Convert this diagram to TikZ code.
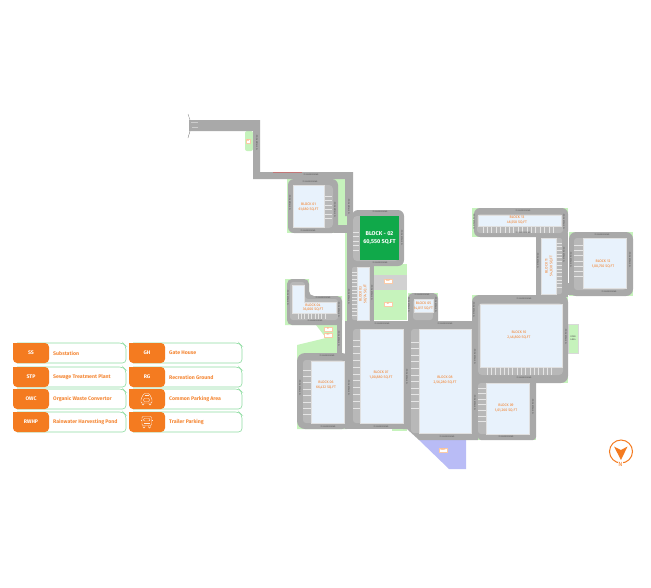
\documentclass[tikz,border=0pt]{standalone}
\usepackage{fontspec}
\setmainfont{Fira Sans}
\usepackage{tikz}
\usetikzlibrary{arrows.meta,positioning,calc}
\definecolor{RoadColor}{HTML}{A9A9A9}
\definecolor{ParkColor}{HTML}{B8B8B8}
\definecolor{LawnColor}{HTML}{C6F3BC}
\definecolor{BlockColor}{HTML}{E8F2FC}
\definecolor{MainBlock}{HTML}{10A94A}
\definecolor{TagColor}{HTML}{F47B20}
\definecolor{PondColor}{HTML}{B9BCF6}
\definecolor{EdgeColor}{HTML}{8FDCA2}
\tikzset{
  road/.style={fill=RoadColor},
  park/.style={fill=ParkColor},
  lawn/.style={fill=LawnColor},
  block/.style={fill=BlockColor,draw=black!12,line width=0.2pt},
  stripe/.style={white!90!black,line width=0.7pt},
  blocktxt/.style={text=TagColor,align=center,font=\fontsize{3.6}{4.6}\selectfont,inner sep=0pt},
  roadtxt/.style={text=black!70,font=\fontsize{2}{2.4}\selectfont,inner sep=0pt},
  smalltag/.style={fill=white,draw=TagColor!40,line width=0.2pt,text=TagColor,font=\fontsize{1.8}{2}\selectfont,minimum width=8pt,minimum height=3.4pt,inner sep=0pt},
  legtag/.style={text=white,font=\fontsize{5.2}{6}\selectfont\bfseries,inner sep=0pt},
  legtxt/.style={text=TagColor!90,anchor=west,font=\fontsize{5.2}{6.4}\selectfont\bfseries,inner sep=0pt},
  icon/.style={draw=white!85!TagColor,line width=0.45pt,rounded corners=1pt},
}
\begin{document}
\begin{tikzpicture}[x=1pt,y=-1pt]
  \useasboundingbox (0,0) rectangle (651,587);
  % lawns
  \fill[lawn,rounded corners=2pt] (245,131) -- (253,131) -- (253,151) -- (245,151) -- cycle;
  \fill[lawn] (287,179) rectangle (347,233);
  \fill[lawn] (345,233) rectangle (348,322);
  \fill[lawn] (374,264) rectangle (407,320);
  \fill[lawn] (285,279) -- (309,279) -- (309,296) -- (342,296) -- (342,325) -- (285,325) -- cycle;
  \fill[lawn] (316,325) -- (342,325) -- (342,356) -- (347,356) -- (347,429) -- (297,429) -- (297,345) -- (326,338) -- cycle;
  \fill[lawn] (392,425) rectangle (407,431);
  \fill[lawn] (408,293) rectangle (438,322);
  \fill[lawn] (472,295) rectangle (568,383);
  \fill[lawn] (478,382) rectangle (536,440);
  \fill[lawn] (472,208) rectangle (568,237);
  \fill[lawn] (569,232) rectangle (633,296);
  \fill[lawn,draw=black!15,line width=0.2pt] (568,324) rectangle (578,353);
  \fill[black!18] (374,275) rectangle (407,290);
  % pond
  \fill[PondColor] (419,440) -- (466,440) -- (466,469) -- (449,469) -- cycle;
  % access road
  \fill[road] (189,120) -- (260,120) -- (260,172) -- (353,172) -- (353,216) -- (345,216) -- (345,179) -- (253,179) -- (253,131) -- (189,131) -- cycle;
  \draw[red!30!RoadColor,line width=0.3pt] (273,172.2) -- (302,172.2);
  \draw[black!60,line width=0.3pt] (190,120) -- (188,114);
  \draw[black!60,line width=0.3pt] (190,131) -- (188,138);
  \draw[white!80!black,line width=0.4pt] (191,122.5) -- (198,122.5);
  \draw[white!80!black,line width=0.4pt] (192,127) -- (198,127);
  % road rings
  \fill[road,rounded corners=6pt] (288,179) rectangle (338,233);
  \fill[road] (334,225) rectangle (348,233);
  \fill[road] (347,215) rectangle (353,327);
  \fill[road,rounded corners=6pt] (352,210) rectangle (404,266);
  \fill[road] (347,262) rectangle (374,327);
  \fill[road,rounded corners=5pt] (287,279) -- (309,279) -- (309,296) -- (342,296) -- (342,325) -- (287,325) -- cycle;
  \fill[road] (337,318) rectangle (342,360);
  \fill[road,rounded corners=8pt] (297,353) -- (350,353) -- (350,429) -- (297,429) -- cycle;
  \fill[road] (345,321) rectangle (411,429);
  \fill[road] (403,321) -- (478,321) -- (478,440) -- (419,440) -- (407,429) -- (403,429) -- cycle;
  \fill[road,rounded corners=5pt] (408,293) rectangle (438,327);
  \fill[road,rounded corners=7pt] (472,295) rectangle (568,383);
  \fill[road,rounded corners=3pt] (478,380) rectangle (536,440);
  \fill[road] (536,233) rectangle (568,297);
  \fill[road,rounded corners=6pt] (474,208) rectangle (568,237);
  \fill[road,rounded corners=7pt] (569,232) rectangle (633,296);
  \fill[road] (566,283) rectangle (576,295);
  % parking
  \fill[park,rounded corners=4pt] (293,185) rectangle (333,228);
  \fill[park,rounded corners=4pt] (353,216) rectangle (399,261);
  \fill[park,rounded corners=2pt] (352,267) rectangle (369,320);
  \fill[park,rounded corners=3pt] (290,282) -- (305,282) -- (305,299) -- (338,299) -- (338,320) -- (290,320) -- cycle;
  \fill[park,rounded corners=3pt] (303,360) rectangle (344,423);
  \fill[park,rounded corners=3pt] (353,329) rectangle (403,423);
  \fill[park,rounded corners=3pt] (411,329) rectangle (471,433);
  \fill[park,rounded corners=3pt] (413,299) rectangle (433,320);
  \fill[park,rounded corners=4pt] (478,303) rectangle (563,375);
  \fill[park,rounded corners=3pt] (478,383) rectangle (529,434);
  \fill[park,rounded corners=2pt] (541,238) rectangle (562,294);
  \fill[park,rounded corners=3pt] (477,214) rectangle (563,233);
  \fill[park,rounded corners=3pt] (574,238) rectangle (626,290);
  % blocks
  \fill[block] (293,185) rectangle (324,227);
  \fill[MainBlock] (360,216) rectangle (399,260);
  \fill[block] (357,267) rectangle (369,320);
  \fill[block] (292,285) -- (304,285) -- (304,302) -- (336,302) -- (336,313) -- (292,313) -- cycle;
  \fill[block] (414,299) rectangle (433,312);
  \fill[block] (311,361) rectangle (344,423);
  \fill[block] (360,329) rectangle (403,423);
  \fill[block] (419,329) rectangle (471,433);
  \fill[block] (486,383) rectangle (529,434);
  \fill[block] (480,304) rectangle (562,367);
  \fill[block] (541,238) rectangle (556,294);
  \fill[block] (583,238) rectangle (626,288);
  \fill[block] (478,215) rectangle (561,226);
  % parking bays
  \foreach \py in {196,200.5,205,209.5,214,218} \draw[stripe] (325,\py) -- (332,\py);
  \foreach \py in {232,236.5,241,245.5,250} \draw[stripe] (353,\py) -- (359,\py);
  \foreach \py in {272,275.6,...,316} \draw[stripe] (352,\py) -- (357,\py);
  \foreach \px in {298,301.4,...,328} \draw[stripe] (\px,313) -- (\px,319);
  \foreach \py in {370,376.4,...,416} \draw[stripe] (303,\py) -- (311,\py);
  \foreach \py in {340,346.8,...,409} \draw[stripe] (353,\py) -- (360,\py);
  \foreach \py in {342,348.6,...,409} \draw[stripe] (411,\py) -- (419,\py);
  \foreach \py in {388,393.6,...,426} \draw[stripe] (478,\py) -- (486,\py);
  \foreach \px in {487,491.3,...,553} \draw[stripe] (\px,367) -- (\px,375);
  \foreach \py in {243,246.7,...,288} \draw[stripe] (556,\py) -- (562,\py);
  \foreach \py in {245,250.3,...,278} \draw[stripe] (574,\py) -- (583,\py);
  \foreach \px in {483,487.4,...,554} \draw[stripe] (\px,227) -- (\px,233);
  % block names
  \node[blocktxt] (bk01) at (308.5,207) {BLOCK 01\\61,680 SQ.FT};
  \node[text=white,align=center,inner sep=0pt,font=\fontsize{5.6}{7.6}\selectfont\bfseries] (bk02) at (379.5,238) {BLOCK - 02\\60,550 SQ.FT};
  \node[blocktxt,rotate=90] (bk03) at (363,294) {BLOCK 03\\50,774 SQ.FT};
  \node[blocktxt] (bk04) at (313,307.5) {BLOCK 04\\36,000 SQ.FT};
  \node[blocktxt] (bk05) at (423.5,306) {BLOCK 05\\14,017 SQ.FT};
  \node[blocktxt] (bk06) at (326,385) {BLOCK 06\\66,432 SQ.FT};
  \node[blocktxt] (bk07) at (381,375) {BLOCK 07\\1,00,880 SQ.FT};
  \node[blocktxt] (bk08) at (445,380) {BLOCK 08\\2,56,280 SQ.FT};
  \node[blocktxt] (bk09) at (506,408) {BLOCK 09\\1,01,260 SQ.FT};
  \node[blocktxt] (bk10) at (519,335) {BLOCK 10\\2,46,800 SQ.FT};
  \node[blocktxt,rotate=90] (bk11) at (549,266) {BLOCK 11\\54,830 SQ.FT};
  \node[blocktxt] (bk12) at (603,264) {BLOCK 12\\1,00,750 SQ.FT};
  \node[blocktxt] (bk13) at (517,220) {BLOCK 13\\46,550 SQ.FT};
  \node[text=black!70,align=center,inner sep=0pt,font=\fontsize{2.2}{3}\selectfont] (opn) at (573,338.5) {OPEN\\AREA};
  % utility tags
  \node[smalltag,minimum width=4pt] (tgh) at (248,141) {GH};
  \node[smalltag] (tss) at (328,329) {SS};
  \node[smalltag] (tstp) at (328,335) {STP};
  \node[smalltag] (towc) at (388,281) {OWC};
  \node[smalltag] (trg) at (388,304) {RG};
  \node[smalltag] (trwhp) at (443,450) {RWHP};
  % road names
  \foreach \px/\py [count=\i] in {311/175,310/182,308/231,380/212,380/263,323/298,315/321,327/356,328/427,381/427,382/324,422/295,445/324,447/437,523/211,523/233,524/299,524/378,602/235,609/292,506/437}
    \node[roadtxt] (rdh\i) at (\px,\py) {7.5 M WIDE ROAD};
  \foreach \px/\py [count=\i] in {257/143,290/203,335/210,349/207,402/238,349/297,372/293,288/298,339/310,339/339,300/388,349/388,407/377,409/305,436/305,475/357,475/403,474/222,564/222,538/261,571/260,564/255,474/310,566/337,630/260,533/407}
    \node[roadtxt,rotate=90] (rdv\i) at (\px,\py) {7.5 M WIDE ROAD};
  % legend
  \foreach \lx/\ly/\lname/\ltag/\ltxt in {13/343/ss/SS/Substation,13/367/stp/STP/Sewage Treatment Plant,13/389/owc/OWC/Organic Waste Convertor,13/412/rwhp/RWHP/Rainwater Harvesting Pond,129/343/gh/GH/Gate House,129/367/rg/RG/Recreation Ground,129/389/cpa/{}/Common Parking Area,129/412/trl/{}/Trailer Parking}{
    \draw[EdgeColor,line width=0.6pt,fill=white,rounded corners=3.5pt] (\lx+4,\ly) -- (\lx+110,\ly) -- (\lx+113,\ly+3) -- (\lx+113,\ly+20) -- (\lx+4,\ly+20);
    \fill[TagColor,rounded corners=4pt] (\lx,\ly+10) -- (\lx,\ly+20) -- (\lx+36,\ly+20) -- (\lx+36,\ly) -- (\lx,\ly) -- cycle;
    \fill[TagColor] (\lx,\ly) rectangle (\lx+6,\ly+8);
    \node[legtag] (tag\lname) at (\lx+18,\ly+10) {\ltag};
    \node[legtxt] (txt\lname) at (\lx+40,\ly+10) {\ltxt};
  }
  % car icon
  \draw[icon] (142,397) -- (144,393.5) -- (149,393.5) -- (151,397) -- (152,399) -- (152,403) -- (141,403) -- (141,399) -- cycle;
  \draw[icon] (143.5,398.5) rectangle (149.5,401.5);
  \draw[icon] (142,403) -- (142,405) -- (144,405) -- (144,403);
  \draw[icon] (149,403) -- (149,405) -- (151,405) -- (151,403);
  \draw[icon] (144.5,395) -- (148.5,395);
  % truck icon
  \draw[icon] (142,416.5) rectangle (151.5,425.5);
  \draw[icon] (143.5,418.5) rectangle (150,421);
  \draw[icon] (143.5,423) -- (150,423);
  \draw[icon] (143,425.5) -- (143,428) -- (145,428) -- (145,425.5);
  \draw[icon] (148.5,425.5) -- (148.5,428) -- (150.5,428) -- (150.5,425.5);
  \draw[icon] (141,420) -- (142,420);
  \draw[icon] (151.5,420) -- (152.5,420);
  % north sign
  \node[circle,draw=TagColor,line width=1pt,minimum size=23pt,inner sep=0pt] (cmp) at (621,451.5) {};
  \fill[TagColor] (614,446.5) -- (621,450) -- (627.5,446.5) -- (621,460) -- cycle;
  \node[fill=white,text=TagColor,inner sep=0.4pt,font=\fontsize{6}{6}\selectfont] (nth) at (620.5,464) {N};
\end{tikzpicture}
\end{document}
